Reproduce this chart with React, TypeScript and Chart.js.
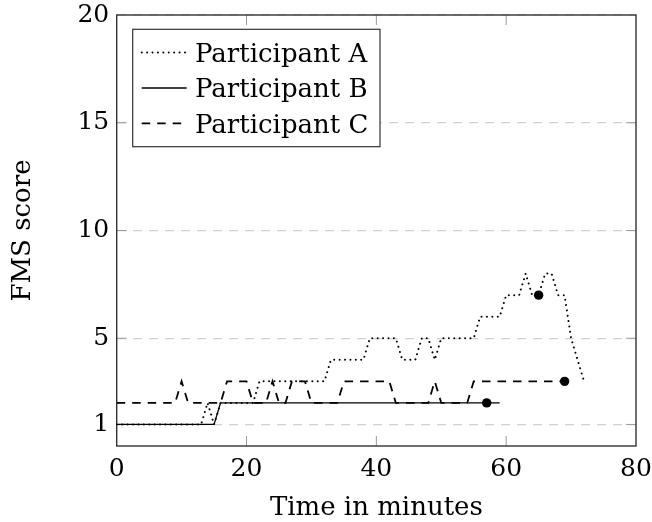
import React, { useEffect, useRef } from "react";
import { Chart, registerables } from "chart.js";

Chart.register(...registerables);

// ---- data ----
const seriesNames = ["Participant A", "Participant B", "Participant C"];

const timeA = [0, 13, 14, 15, 16, 21, 22, 32, 33, 38, 39, 43, 44, 46, 47, 48, 49, 50, 55, 56, 59, 60, 62, 63, 64, 65, 66, 67, 68, 69, 70, 72];
const scoreA = [1, 1, 2, 1, 2, 2, 3, 3, 4, 4, 5, 5, 4, 4, 5, 5, 4, 5, 5, 6, 6, 7, 7, 8, 7, 7, 8, 8, 7, 7, 5, 3];

const timeB = [0, 15, 16, 59];
const scoreB = [1, 1, 2, 2];

const timeC = [0, 9, 10, 11, 16, 17, 20, 21, 23, 24, 25, 26, 27, 29, 30, 34, 35, 42, 43, 48, 49, 50, 54, 55, 69];
const scoreC = [2, 2, 3, 2, 2, 3, 3, 2, 2, 3, 2, 2, 3, 3, 2, 2, 3, 3, 2, 2, 3, 2, 2, 3, 3];

const endTimes = [65, 57, 69];
const endScores = [7, 2, 3];

const xTicks = [0, 20, 40, 60, 80];
const yTicks = [1, 5, 10, 15, 20];

const xTitle = "Time in minutes";
const yTitle = "FMS score";

const FONT = '"DejaVu Serif", serif';

export default function App() {
  const ref = useRef<HTMLCanvasElement | null>(null);

  useEffect(() => {
    document.body.style.margin = "0";
    const W = 652;
    const H = 522;
    const frameLeft = 116.7;
    const frameTop = 15;
    const frameRight = 636;
    const frameBottom = 446;

    const toXY = (xs: number[], ys: number[]) => xs.map((x, i) => ({ x, y: ys[i] }));

    const styles = [
      { dash: [0.01, 5.4], width: 2, cap: "round" as CanvasLineCap },
      { dash: [] as number[], width: 1.3, cap: "butt" as CanvasLineCap },
      { dash: [8.5, 7], width: 1.8, cap: "butt" as CanvasLineCap },
    ];

    const framePlugin = {
      id: "frameTicks",
      beforeDatasetsDraw(chart: any) {
        const { ctx, chartArea: a, scales } = chart;
        ctx.save();
        ctx.strokeStyle = "#9a9a9a";
        ctx.lineWidth = 1;
        const tl = 10;
        xTicks.forEach((v) => {
          if (v === xTicks[0] || v === xTicks[xTicks.length - 1]) return;
          const px = scales.x.getPixelForValue(v);
          ctx.beginPath();
          ctx.moveTo(px, a.bottom);
          ctx.lineTo(px, a.bottom - tl);
          ctx.moveTo(px, a.top);
          ctx.lineTo(px, a.top + tl);
          ctx.stroke();
        });
        yTicks.forEach((v) => {
          if (v === 20) return;
          const py = scales.y.getPixelForValue(v);
          ctx.beginPath();
          ctx.moveTo(a.left, py);
          ctx.lineTo(a.left + tl, py);
          ctx.moveTo(a.right, py);
          ctx.lineTo(a.right - tl, py);
          ctx.stroke();
        });
        ctx.strokeStyle = "#333";
        ctx.lineWidth = 1.4;
        ctx.strokeRect(a.left, a.top, a.right - a.left, a.bottom - a.top);
        ctx.restore();
      },
      afterDraw(chart: any) {
        const { ctx } = chart;
        ctx.save();
        const bx = 132.7;
        const by = 29.3;
        const bw = 247.3;
        const bh = 117.4;
        ctx.fillStyle = "#fff";
        ctx.fillRect(bx, by, bw, bh);
        ctx.strokeStyle = "#333";
        ctx.lineWidth = 1.2;
        ctx.strokeRect(bx, by, bw, bh);
        seriesNames.forEach((name, i) => {
          const cy = 52.6 + i * 35.4;
          const st = styles[i];
          ctx.strokeStyle = "#000";
          ctx.lineWidth = st.width;
          ctx.lineCap = st.cap;
          ctx.setLineDash(st.dash);
          ctx.beginPath();
          ctx.moveTo(141.7, cy);
          ctx.lineTo(186.7, cy);
          ctx.stroke();
          ctx.setLineDash([]);
          ctx.fillStyle = "#000";
          ctx.font = `26px ${FONT}`;
          ctx.textBaseline = "alphabetic";
          ctx.textAlign = "left";
          ctx.fillText(name, 195, cy + 9.2);
        });
        ctx.restore();
      },
    };

    const lineSets = [
      [timeA, scoreA],
      [timeB, scoreB],
      [timeC, scoreC],
    ].map(([xs, ys], i) => ({
      label: seriesNames[i],
      data: toXY(xs, ys),
      showLine: true,
      borderColor: "#000",
      backgroundColor: "#000",
      borderWidth: styles[i].width,
      borderDash: styles[i].dash,
      borderCapStyle: styles[i].cap,
      pointRadius: 0,
      tension: 0,
      fill: false,
    }));

    const chart = new Chart(ref.current as HTMLCanvasElement, {
      type: "scatter",
      data: {
        datasets: [
          {
            label: "end",
            data: toXY(endTimes, endScores),
            showLine: false,
            pointRadius: 4.7,
            pointBackgroundColor: "#000",
            pointBorderColor: "#000",
            pointBorderWidth: 0,
          } as any,
          ...(lineSets as any[]),
        ],
      },
      options: {
        responsive: false,
        animation: false,
        events: [],
        layout: { padding: { left: 0, right: W - frameRight, top: frameTop, bottom: 0 } },
        plugins: { legend: { display: false }, tooltip: { enabled: false } },
        scales: {
          x: {
            type: "linear",
            min: 0,
            max: 80,
            afterBuildTicks: (s: any) => {
              s.ticks = xTicks.map((v) => ({ value: v }));
            },
            afterFit: (s: any) => {
              s.height = H - frameBottom;
              s.paddingLeft = 0;
              s.paddingRight = 0;
            },
            grid: { display: false },
            border: { display: false },
            ticks: { color: "#000", font: { family: FONT, size: 25 }, padding: 0, maxRotation: 0 },
            title: { display: true, text: xTitle, color: "#000", font: { family: FONT, size: 26 }, padding: { top: 0, bottom: -2 } },
          },
          y: {
            type: "linear",
            min: 0,
            max: 20,
            afterBuildTicks: (s: any) => {
              s.ticks = yTicks.map((v) => ({ value: v }));
            },
            afterFit: (s: any) => {
              s.width = frameLeft;
              s.paddingTop = 0;
              s.paddingBottom = 0;
            },
            grid: { color: "#d0d0d0", lineWidth: 1.2, drawTicks: false },
            border: { display: false, dash: [9, 7] },
            ticks: { color: "#000", font: { family: FONT, size: 25 }, padding: 7.5 },
            title: { display: true, text: yTitle, color: "#000", font: { family: FONT, size: 26 }, padding: { top: 8, bottom: 0 } },
          },
        },
      } as any,
      plugins: [framePlugin],
    });

    return () => chart.destroy();
  }, []);

  return (
    <div style={{ position: "absolute", left: 0, top: 0, width: 652, height: 522 }}>
      <canvas ref={ref} width={652} height={522} style={{ display: "block", width: 652, height: 522 }} />
    </div>
  );
}
